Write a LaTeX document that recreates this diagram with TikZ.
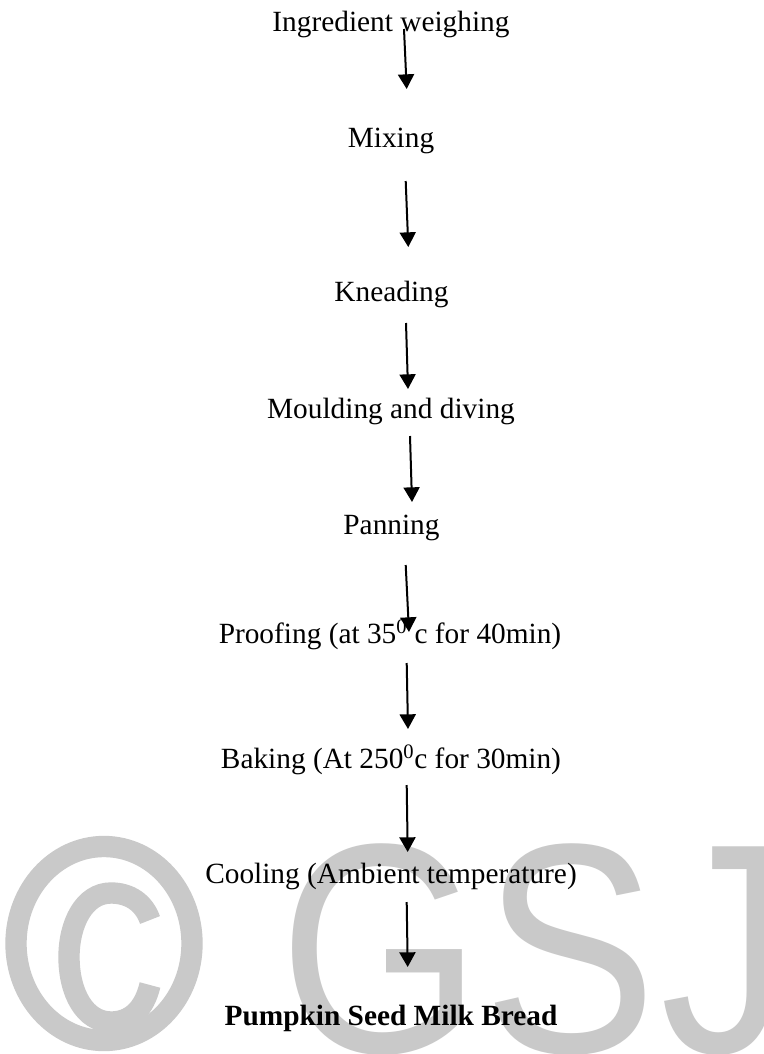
\documentclass[tikz,border=0pt]{standalone}
\usepackage{fontspec}
\usepackage{graphicx}
\setmainfont{Liberation Serif}
\newfontfamily\wmfont{Liberation Sans}
\usetikzlibrary{arrows.meta}
\definecolor{wmgray}{gray}{0.79}
\tikzset{
  steptext/.style={anchor=base, inner sep=0pt, font=\fontsize{22}{26}\selectfont},
  flow/.style={line width=1.5pt, -{Triangle[length=11pt,width=12pt]}},
  wmglyph/.style={anchor=base west, inner sep=0pt, text=wmgray},
  wmstroke/.style={draw=wmgray, line width=16pt}
}
\newcommand{\wmg}[1]{\scalebox{1}[1.15]{\wmfont\fontsize{195}{200}\selectfont #1}}
\begin{document}
\begin{tikzpicture}[x=0.75pt, y=-0.75pt]
\useasboundingbox (0,0) rectangle (764,1054);
\clip (0,0) rectangle (764,1054);
\fill[white] (0,0) rectangle (764,1054);
% watermark: copyright sign drawn as ring and C
\draw[wmstroke] (104,943.5) ellipse [x radius=88, y radius=97];
\draw[wmstroke] (150,920) .. controls (144,903) and (130,893) .. (111,893)
  .. controls (84,893) and (69,924) .. (69,957)
  .. controls (69,993) and (85,1022) .. (111,1022)
  .. controls (130,1022) and (144,1010) .. (150,985);
% watermark letters
\node[wmglyph] (wmG) at (279,1052) {\wmg{G}};
\node[wmglyph] (wmS) at (483,1052) {\wmg{S}};
\node[wmglyph] (wmJ) at (660,1052) {\wmg{J}};
% steps
\node[steptext] (n1) at (391,31) {Ingredient weighing};
\node[steptext] (n2) at (391,147.3) {Mixing};
\node[steptext] (n3) at (391.5,301.7) {Kneading};
\node[steptext] (n4) at (391,418.3) {Moulding and diving};
\node[steptext] (n5) at (391.5,534) {Panning};
\node[steptext] (n6) at (390,643.3) {Proofing (at 35\textsuperscript{0} c for 40min)};
\node[steptext] (n7) at (391,768.3) {Baking (At 250\textsuperscript{0}c for 30min)};
\node[steptext] (n8) at (391,883.3) {Cooling (Ambient temperature)};
\node[steptext, font=\fontsize{22}{26}\selectfont\bfseries] (n9) at (391,1025) {Pumpkin Seed Milk Bread};
% arrow end points
\coordinate (a1s) at (404,29);    \coordinate (a1e) at (406.7,89);
\coordinate (a2s) at (405.7,181); \coordinate (a2e) at (408.3,247);
\coordinate (a3s) at (406,323);   \coordinate (a3e) at (408,389);
\coordinate (a4s) at (410,436);   \coordinate (a4e) at (412,502);
\coordinate (a5s) at (405.7,565); \coordinate (a5e) at (409,632);
\coordinate (a6s) at (406.7,663); \coordinate (a6e) at (408,729);
\coordinate (a7s) at (406.7,785); \coordinate (a7e) at (407.7,852);
\coordinate (a8s) at (406.7,902); \coordinate (a8e) at (407.7,967);
\draw[flow] (a1s) -- (a1e);
\draw[flow] (a2s) -- (a2e);
\draw[flow] (a3s) -- (a3e);
\draw[flow] (a4s) -- (a4e);
\draw[flow] (a5s) -- (a5e);
\draw[flow] (a6s) -- (a6e);
\draw[flow] (a7s) -- (a7e);
\draw[flow] (a8s) -- (a8e);
\end{tikzpicture}
\end{document}
